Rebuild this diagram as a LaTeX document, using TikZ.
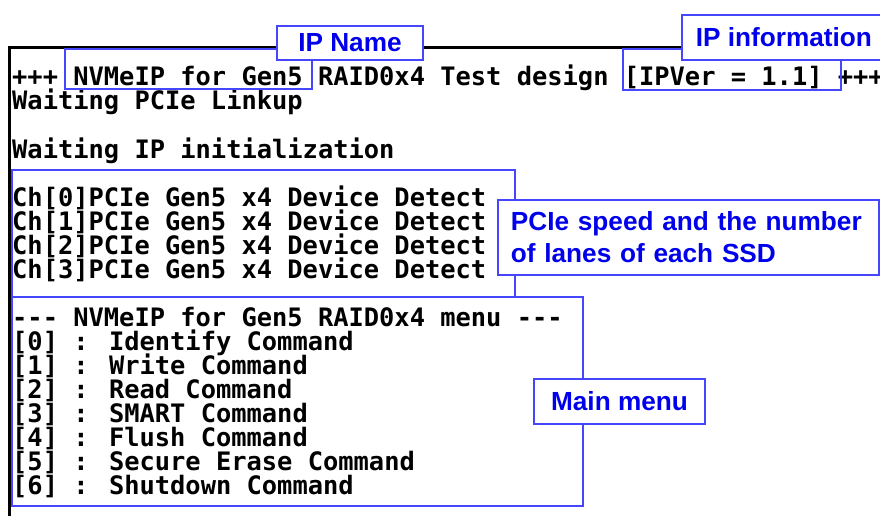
\documentclass[tikz,border=0pt]{standalone}
\usepackage{fontspec}
\newfontfamily\termfont{DejaVu Sans Mono}
\newfontfamily\notefont{Liberation Sans}
\definecolor{boxblue}{RGB}{70,70,255}
\definecolor{noteblue}{RGB}{0,0,235}

\begin{document}
\begin{tikzpicture}[x=1pt,y=-1pt,
  term/.style={anchor=base west,inner sep=0pt,font=\termfont\bfseries\fontsize{25.4}{24}\selectfont},
  hlbox/.style={draw=boxblue,line width=1.8pt},
  notebox/.style={draw=boxblue,line width=1.8pt,fill=white,text=noteblue,inner sep=0pt,
    font=\notefont\bfseries\fontsize{26.2}{32}\selectfont}]
\useasboundingbox (0,0) rectangle (880,516);
\clip (0,0) rectangle (880,516);
% terminal window edge
\draw[line width=3pt] (9.5,516) -- (9.5,47.5) -- (882,47.5);
% console output
\node[term] (head) at (12,86) {+++ NVMeIP for Gen5 RAID0x4 Test design [IPVer = 1.1] +++};
\node[term] (link) at (12,110) {Waiting PCIe Linkup};
\node[term] (init) at (12,158) {Waiting IP initialization};
\foreach \i in {0,...,3}
  \node[term] (ch\i) at (12,206+24*\i) {Ch[\i]PCIe Gen5 x4 Device Detect};
% main menu
\node[term] (menu) at (12,326) {--- NVMeIP for Gen5 RAID0x4 menu ---};
\foreach \i/\cmd in {0/Identify,1/Write,2/Read,3/SMART,4/Flush,5/Secure Erase,6/Shutdown}
  \node[term] (item\i) at (12,350+24*\i) {[\i] : \cmd{} Command};
% highlighted parts of the output
\draw[hlbox] (65,49) rectangle (312,89);
\draw[hlbox] (623,49) rectangle (841,90);
\draw[hlbox] (12,170) rectangle (515,297);
\draw[hlbox] (12,297) rectangle (583,506);
% notes
\node[notebox,minimum width=146pt,minimum height=34pt] (ipname) at (350,43) {IP Name};
\node[notebox,minimum width=204pt,minimum height=45pt,anchor=north west] (ipinfo) at (681,14) {IP information};
\node[notebox,anchor=west,inner xsep=13pt,text width=355pt,minimum height=75pt,align=left] (speed) at (497,237.5) {PCIe speed and the number\\of lanes of each SSD};
\node[notebox,minimum width=171pt,minimum height=45pt] (mainmenu) at (619.5,401.5) {Main menu};
\end{tikzpicture}
\end{document}
